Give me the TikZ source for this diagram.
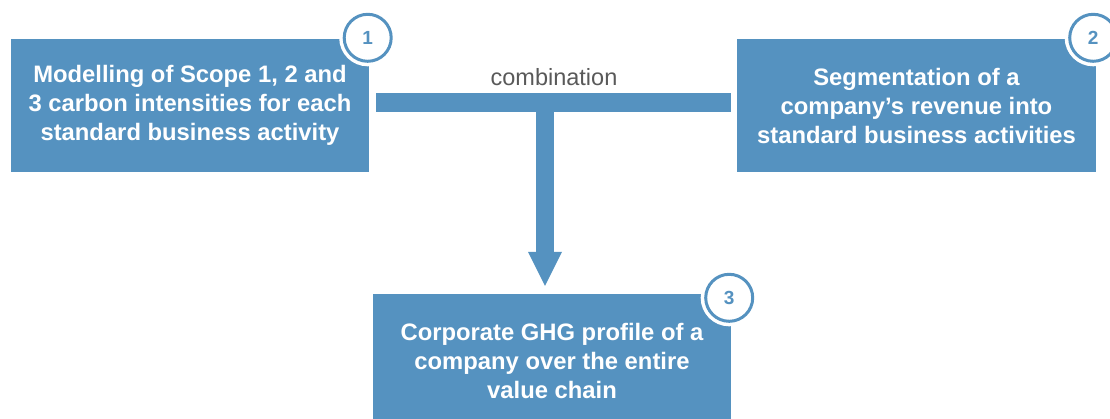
\documentclass[tikz,border=0pt]{standalone}
\usepackage{fontspec}
\setmainfont{Liberation Sans}
\usetikzlibrary{arrows.meta,calc}
\definecolor{boxblue}{RGB}{85,146,192}
\definecolor{labelgray}{RGB}{89,89,89}
\tikzset{
  stepbox/.style={fill=boxblue, draw=none, minimum width=358pt, minimum height=133pt,
    inner sep=0pt, align=center, text=white,
    font=\fontsize{23.8pt}{29pt}\selectfont\bfseries},
  badge/.style={circle, fill=white, draw=boxblue, line width=3pt, minimum size=47pt,
    inner sep=0pt, text=boxblue, font=\fontsize{19pt}{21pt}\selectfont\bfseries,
    preaction={draw=white, line width=10pt}},
  bar/.style={draw=boxblue, line width=19pt},
  shaft/.style={draw=boxblue, line width=18pt,
    -{Triangle[width=34pt,length=34pt,line width=0pt]}},
}
\begin{document}
\begin{tikzpicture}[x=1pt,y=-1pt]
  \useasboundingbox (0,0) rectangle (1110,419);
  \begin{scope}
  \clip (0,0) rectangle (1110,419);
  \node[stepbox] (b1) at (190,105.5) {Modelling of Scope 1, 2 and\\3 carbon intensities for each\\standard business activity};
  \node[stepbox, minimum width=359pt] (b2) at (916.5,105.5) {Segmentation of a\\company’s revenue into\\standard business activities};
  \node[stepbox] (b3) at (552,360.5) {Corporate GHG profile of a\\company over the entire\\value chain};
  \node[badge] (c1) at ($(b1.north east)+(-1.5,-1)$) {1};
  \node[badge] (c2) at ($(b2.north east)+(-3,-1)$) {2};
  \node[badge] (c3) at ($(b3.north east)+(-2,4)$) {3};
  \node[text=labelgray, font=\fontsize{23.5pt}{26pt}\selectfont, inner sep=0pt] (lab) at (554,77) {combination};
  \coordinate (bl) at ($(b1.east)+(7,-3)$);
  \coordinate (br) at ($(b2.west)+(-6,-3)$);
  \path[bar] (bl) -- (br);
  \coordinate (j) at (545,102.5);
  \path[shaft] (j) -- ($(b3.north -| j)+(0,-8)$);
  \end{scope}
\end{tikzpicture}
\end{document}
